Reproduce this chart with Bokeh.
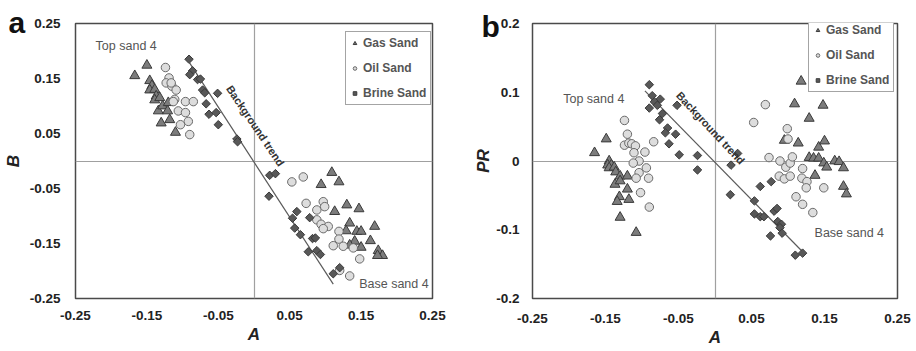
import math
from bokeh.plotting import figure
from bokeh.layouts import row
from bokeh.models import Range1d, FixedTicker, Label, Legend, LegendItem, Title
from bokeh.embed import file_html
from bokeh.resources import INLINE

# ---------------- data: panel a (A vs B) ----------------
gas_a_A = [-0.167, -0.150, -0.146, -0.143, -0.146, -0.139, -0.137, -0.139, -0.132, -0.134, -0.128, -0.130,
           -0.121, -0.118, -0.120, -0.110,
           0.109, 0.094, 0.119, 0.113, 0.130, 0.147, 0.134, 0.129, 0.144, 0.150, 0.169, 0.141, 0.134, 0.150,
           0.163, 0.174, 0.180, 0.173]
gas_a_B = [0.155, 0.174, 0.146, 0.137, 0.129, 0.130, 0.118, 0.111, 0.115, 0.091, 0.100, 0.069,
           0.091, 0.075, 0.106, 0.052,
           -0.021, -0.043, -0.038, -0.092, -0.080, -0.087, -0.113, -0.127, -0.128, -0.128, -0.119, -0.146,
           -0.153, -0.157, -0.145, -0.163, -0.172, -0.172]

oil_a_A = [-0.124, -0.119, -0.123, -0.115, -0.109, -0.111, -0.113, -0.096, -0.085, -0.106, -0.096, -0.092,
           -0.103, -0.090, -0.116,
           0.053, 0.069, 0.073, 0.088, 0.097, 0.099, 0.088, 0.094, 0.104, 0.097, 0.119, 0.119, 0.111, 0.125,
           0.139, 0.148, 0.134, 0.120]
oil_a_B = [0.170, 0.151, 0.142, 0.136, 0.129, 0.112, 0.108, 0.108, 0.108, 0.091, 0.088, 0.072,
           0.066, 0.048, 0.142,
           -0.038, -0.029, -0.077, -0.089, -0.074, -0.083, -0.107, -0.115, -0.119, -0.123, -0.128, -0.142,
           -0.154, -0.155, -0.158, -0.178, -0.209, -0.199]

brine_a_A = [-0.091, -0.086, -0.090, -0.079, -0.075, -0.072, -0.069, -0.051, -0.067, -0.063, -0.053, -0.050,
             -0.024, -0.023,
             0.022, 0.030, 0.021, 0.054, 0.060, 0.057, 0.065, 0.078, 0.082, 0.086, 0.076, 0.088, 0.093,
             0.111, 0.120]
brine_a_B = [0.185, 0.164, 0.157, 0.148, 0.149, 0.129, 0.124, 0.123, 0.104, 0.085, 0.088, 0.066,
             0.040, 0.035,
             -0.026, -0.023, -0.064, -0.104, -0.092, -0.122, -0.134, -0.103, -0.141, -0.140, -0.165, -0.163,
             -0.170, -0.205, -0.194]

trend_a_A = [-0.090, 0.111]
trend_a_B = [0.178, -0.224]

# ---------------- data: panel b (A vs PR) ----------------
gas_b_A = [-0.165, -0.149, -0.145, -0.147, -0.142, -0.145, -0.138, -0.136, -0.130, -0.120, -0.137, -0.130,
           -0.120, -0.131, -0.134, -0.118, -0.130, -0.108,
           0.118, 0.109, 0.148, 0.129, 0.095, 0.114, 0.142, 0.150, 0.129, 0.135, 0.142, 0.149, 0.153,
           0.164, 0.170, 0.176, 0.137, 0.176, 0.180]
gas_b_PR = [0.012, 0.032, 0.000, -0.006, -0.006, -0.010, -0.009, -0.016, -0.022, -0.022, -0.034, -0.029,
            -0.041, -0.052, -0.059, -0.056, -0.082, -0.104,
            0.116, 0.083, 0.081, 0.062, 0.030, 0.026, 0.020, 0.029, 0.005, 0.004, 0.004, -0.003, -0.009,
            0.000, -0.001, -0.010, -0.021, -0.037, -0.048]

oil_b_A = [-0.124, -0.120, -0.124, -0.118, -0.114, -0.109, -0.111, -0.096, -0.084, -0.104, -0.112, -0.104,
           -0.108, -0.094, -0.091, -0.102, -0.090,
           0.069, 0.053, 0.099, 0.100, 0.074, 0.089, 0.097, 0.103, 0.106, 0.088, 0.095, 0.103, 0.120,
           0.119, 0.126, 0.125, 0.149, 0.111, 0.120, 0.134]
oil_b_PR = [0.059, 0.039, 0.023, 0.026, 0.025, 0.022, 0.012, 0.013, 0.028, 0.000, -0.003, -0.017,
            -0.025, -0.010, -0.025, -0.046, -0.067,
            0.082, 0.056, 0.047, 0.032, 0.005, 0.000, -0.009, -0.003, 0.006, -0.022, -0.026, -0.022, -0.011,
            -0.025, -0.030, -0.039, -0.039, -0.052, -0.063, -0.075]

brine_b_A = [-0.090, -0.086, -0.075, -0.083, -0.079, -0.090, -0.072, -0.076, -0.065, -0.068, -0.052, -0.054,
             -0.063, -0.049, -0.024, -0.024,
             0.031, 0.022, 0.021, 0.062, 0.077, 0.054, 0.054, 0.062, 0.067, 0.081, 0.085, 0.086, 0.091,
             0.089, 0.092, 0.076, 0.110, 0.120]
brine_b_PR = [0.111, 0.095, 0.090, 0.086, 0.081, 0.077, 0.069, 0.060, 0.048, 0.041, 0.081, 0.039,
              0.025, 0.009, 0.008, -0.013,
              0.011, -0.006, -0.049, -0.037, -0.030, -0.058, -0.077, -0.081, -0.081, -0.073, -0.069, -0.088,
              -0.092, -0.097, -0.105, -0.109, -0.137, -0.134]

trend_b_A = [-0.096, 0.120]
trend_b_PR = [0.102, -0.132]

# ticks
a_x_ticks = [-0.25, -0.15, -0.05, 0.05, 0.15, 0.25]
a_x_labels = ["-0.25", "-0.15", "-0.05", "0.05", "0.15", "0.25"]
a_y_ticks = [-0.25, -0.15, -0.05, 0.05, 0.15, 0.25]
a_y_labels = ["-0.25", "-0.15", "-0.05", "0.05", "0.15", "0.25"]
b_y_ticks = [-0.2, -0.1, 0.0, 0.1, 0.2]
b_y_labels = ["-0.2", "-0.1", "0", "0.1", "0.2"]

series_names = ["Gas Sand", "Oil Sand", "Brine Sand"]

FONT = "Liberation Sans"


def make_panel(letter, ylabel, yr, xt, xl, yt, yl, gas, oil, brine, trend,
               borders, leg_loc, trend_label, trend_angle_deg, top_lbl, base_lbl,
               letter_offset, letter_standoff, x_standoff, y_standoff, ylab_standoff):
    p = figure(width=458, height=351, output_backend="svg", toolbar_location=None,
               x_range=Range1d(-0.25, 0.25), y_range=Range1d(*yr),
               min_border_left=borders[0], min_border_right=borders[1],
               min_border_top=borders[2], min_border_bottom=borders[3])
    p.background_fill_color = "white"
    p.border_fill_color = "white"
    p.outline_line_color = "#4a4a4a"
    p.outline_line_width = 1.5

    # axes
    p.xaxis.ticker = FixedTicker(ticks=xt)
    p.yaxis.ticker = FixedTicker(ticks=yt)
    p.xaxis.major_label_overrides = dict(zip(xt, xl))
    p.yaxis.major_label_overrides = dict(zip(yt, yl))
    for ax in (p.xaxis[0], p.yaxis[0]):
        ax.axis_line_color = None
        ax.major_tick_line_color = None
        ax.minor_tick_line_color = None
        ax.major_label_text_font = FONT
        ax.major_label_text_font_style = "bold"
        ax.major_label_text_font_size = "13.5px"
        ax.major_label_text_color = "#222222"
        ax.axis_label_text_font = FONT
        ax.axis_label_text_font_style = "bold italic"
        ax.axis_label_text_font_size = "17px"
        ax.axis_label_text_color = "#222222"
    p.xaxis.axis_label = "A"
    p.yaxis.axis_label = ylabel
    p.xaxis.major_label_standoff = x_standoff
    p.yaxis.major_label_standoff = y_standoff
    p.xaxis.axis_label_standoff = 2
    p.yaxis.axis_label_standoff = ylab_standoff

    # grid only at zero
    p.xgrid.ticker = FixedTicker(ticks=[0])
    p.ygrid.ticker = FixedTicker(ticks=[0])
    p.xgrid.grid_line_color = "#a0a0a0"
    p.ygrid.grid_line_color = "#a0a0a0"
    p.xgrid.grid_line_width = 1.2
    p.ygrid.grid_line_width = 1.2

    # trend line
    p.line(trend[0], trend[1], line_color="#5a5a5a", line_width=1.2)

    r_gas = p.scatter(gas[0], gas[1], marker="triangle", size=10,
                      fill_color="#7c7c7c", line_color="#3a3a3a", line_width=1)
    r_oil = p.scatter(oil[0], oil[1], marker="circle", size=8.5,
                      fill_color="#dddddd", line_color="#6a6a6a", line_width=1)
    r_brine = p.scatter(brine[0], brine[1], marker="square", size=6, angle=math.pi / 4,
                        fill_color="#585858", line_color="#3a3a3a", line_width=1)

    legend = Legend(items=[LegendItem(label=series_names[0], renderers=[r_gas]),
                           LegendItem(label=series_names[1], renderers=[r_oil]),
                           LegendItem(label=series_names[2], renderers=[r_brine])],
                    location=leg_loc)
    legend.border_line_color = "#4a4a4a"
    legend.border_line_width = 1.5
    legend.background_fill_color = "white"
    legend.background_fill_alpha = 1
    legend.label_text_font = FONT
    legend.label_text_font_style = "bold"
    legend.label_text_font_size = "12px"
    legend.label_text_color = "#555555"
    legend.glyph_width = 9
    legend.glyph_height = 14
    legend.label_height = 14
    legend.label_standoff = 4
    legend.spacing = 11
    legend.padding = 4
    legend.margin = 0
    p.add_layout(legend, "center")

    # annotations
    p.add_layout(Label(x=trend_label[0], y=trend_label[1], text="Background trend",
                       angle=math.radians(trend_angle_deg), text_align="center", text_baseline="middle",
                       text_font=FONT, text_font_style="bold", text_font_size="11px",
                       text_color="#333333"))
    p.add_layout(Label(x=top_lbl[0], y=top_lbl[1], text="Top sand 4", text_align="center",
                       text_baseline="middle", text_font=FONT, text_font_size="12.5px",
                       text_color="#555555"))
    p.add_layout(Label(x=base_lbl[0], y=base_lbl[1], text="Base sand 4", text_align="center",
                       text_baseline="middle", text_font=FONT, text_font_size="12.5px",
                       text_color="#555555"))
    # panel letter as a title placed to the left, overlapping the border area
    p.add_layout(Title(text=letter, align="left", offset=letter_offset, standoff=letter_standoff,
                       text_font=FONT, text_font_style="bold", text_font_size="30px",
                       text_color="#111111"), "above")
    return p


pa = make_panel("a", "B", (-0.25, 0.25), a_x_ticks, a_x_labels, a_y_ticks, a_y_labels,
                (gas_a_A, gas_a_B), (oil_a_A, oil_a_B), (brine_a_A, brine_a_B), (trend_a_A, trend_a_B),
                borders=(72, 26, 20, 53), leg_loc=(270, 193),
                trend_label=(0.002, 0.064), trend_angle_deg=-56,
                top_lbl=(-0.179, 0.209), base_lbl=(0.196, -0.223),
                letter_offset=-67, letter_standoff=-30, x_standoff=6, y_standoff=9, ylab_standoff=4)

pb = make_panel("b", "PR", (-0.2, 0.2), a_x_ticks, a_x_labels, b_y_ticks, b_y_labels,
                (gas_b_A, gas_b_PR), (oil_b_A, oil_b_PR), (brine_b_A, brine_b_PR), (trend_b_A, trend_b_PR),
                borders=(74, 19, 23, 44), leg_loc=(276, 206),
                trend_label=(-0.006, 0.048), trend_angle_deg=-47,
                top_lbl=(-0.166, 0.090), base_lbl=(0.184, -0.104),
                letter_offset=-51, letter_standoff=-38, x_standoff=9, y_standoff=7, ylab_standoff=0)

layout = row(pa, pb)
open("out.html", "w").write(file_html(layout, INLINE))
